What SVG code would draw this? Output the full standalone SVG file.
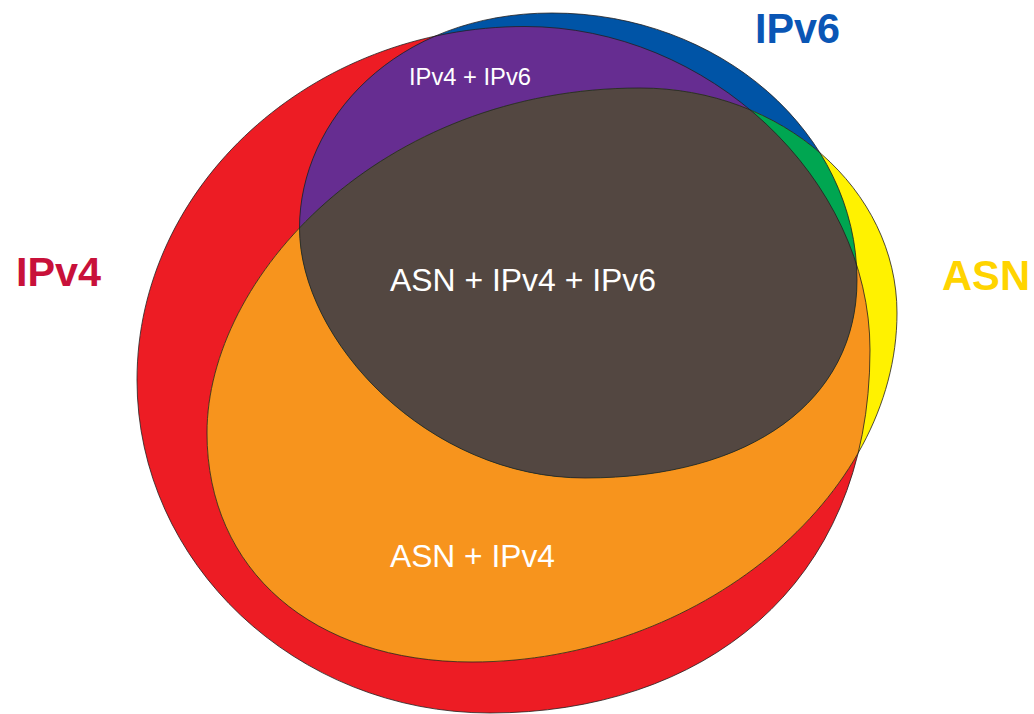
<svg xmlns="http://www.w3.org/2000/svg" xmlns:xlink="http://www.w3.org/1999/xlink" width="1034" height="714" viewBox="0 0 1034 714">
<style>
.inlabel{fill:#ffffff;font-family:"Liberation Sans",Arial,Helvetica,sans-serif}
.setlabel{font-family:"Liberation Sans",Arial,Helvetica,sans-serif;font-weight:bold}
.outline{fill:none;stroke:#231F20;stroke-width:0.8}
</style>
<defs>
<path id="ipv4Shape" d="M137,380 C137,185.6 311.6,26.5 525,26.5 C707.9,26.5 870,178.5 870,350 C870,589.6 699,713 490,713 C295.9,713 137,563.2 137,380 Z"/>
<path id="ipv6Shape" d="M299.5,228 C299.5,120.5 395.5,13 552,13 C719.75,13 857,133.15 857,280 C857,400.8 750.9,478 585,478 C428,478 299.5,340.5 299.5,228 Z"/>
<path id="asnShape" d="M207,433 C207,277.8 380.2,88 640,88 C781.4,88 897,189.3 897,313 C897,498 697.25,662 472,662 C313,662 207,570.4 207,433 Z"/>
<clipPath id="clip4"><use xlink:href="#ipv4Shape"/></clipPath>
<clipPath id="clip6"><use xlink:href="#ipv6Shape"/></clipPath>
</defs>
<rect width="1034" height="714" fill="#ffffff"/>
<g id="node-ipv4"><use xlink:href="#ipv4Shape" fill="#ED1C24"/></g>
<g id="node-ipv6"><use xlink:href="#ipv6Shape" fill="#0054A6"/></g>
<g id="node-asn"><use xlink:href="#asnShape" fill="#FFF200"/></g>
<g id="region-ipv4-ipv6" clip-path="url(#clip4)"><use xlink:href="#ipv6Shape" fill="#662D91"/></g>
<g id="region-asn-ipv4" clip-path="url(#clip4)"><use xlink:href="#asnShape" fill="#F7941D"/></g>
<g id="region-asn-ipv6" clip-path="url(#clip6)"><use xlink:href="#asnShape" fill="#00A651"/></g>
<g id="region-all" clip-path="url(#clip4)"><g clip-path="url(#clip6)"><use xlink:href="#asnShape" fill="#534741"/></g></g>
<g id="outlines">
<use xlink:href="#ipv4Shape" class="outline"/>
<use xlink:href="#ipv6Shape" class="outline"/>
<use xlink:href="#asnShape" class="outline"/>
</g>
<g id="labels">
<text class="inlabel" x="409" y="85" font-size="24" textLength="122" lengthAdjust="spacingAndGlyphs">IPv4 + IPv6</text>
<text class="inlabel" x="390" y="291" font-size="32" textLength="266" lengthAdjust="spacingAndGlyphs">ASN + IPv4 + IPv6</text>
<text class="inlabel" x="390" y="567" font-size="31.5" textLength="165" lengthAdjust="spacingAndGlyphs">ASN + IPv4</text>
<text class="setlabel" x="16" y="286" font-size="40" fill="#C8113A" textLength="85" lengthAdjust="spacingAndGlyphs">IPv4</text>
<text class="setlabel" x="755" y="43" font-size="42" fill="#0A56B5" textLength="85" lengthAdjust="spacingAndGlyphs">IPv6</text>
<text class="setlabel" x="942" y="290" font-size="42" fill="#FFD400" textLength="88" lengthAdjust="spacingAndGlyphs">ASN</text>
</g>
</svg>
